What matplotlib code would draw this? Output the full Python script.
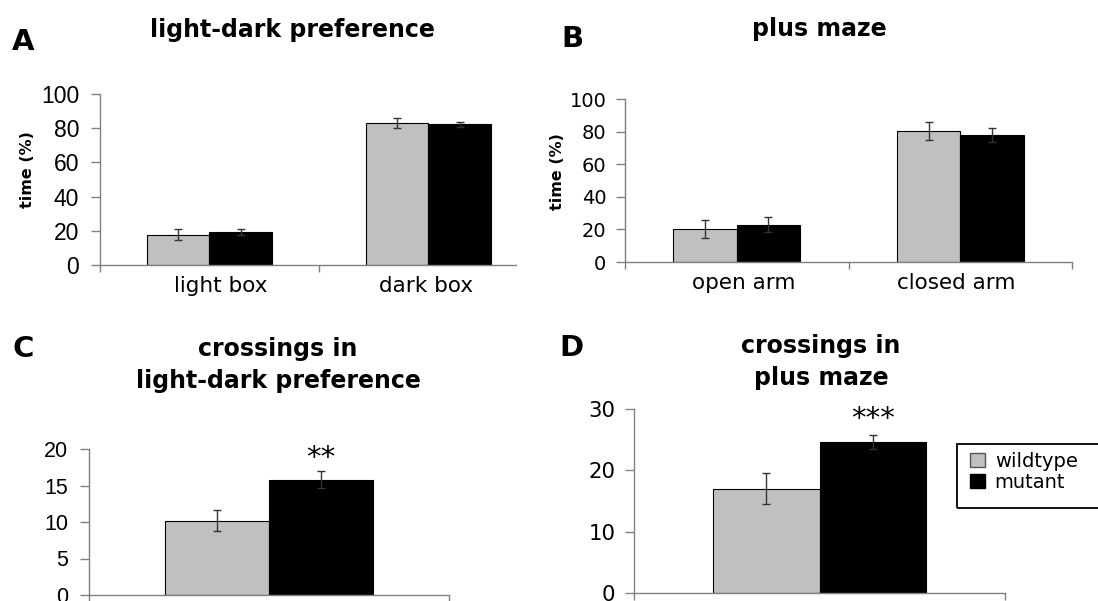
import numpy as np
import matplotlib
matplotlib.use('Agg')
import matplotlib.pyplot as plt
from matplotlib.patches import Patch, Rectangle

# valores
grupos = ['wildtype', 'mutant']
cores = ['#c0c0c0', '#000000']

cat_A = ['light box', 'dark box']
wt_A = [17.8, 83.2]
wt_A_err = [3.0, 2.8]
mut_A = [19.2, 82.2]
mut_A_err = [1.8, 1.4]

cat_B = ['open arm', 'closed arm']
wt_B = [20.0, 80.3]
wt_B_err = [5.5, 5.3]
mut_B = [22.9, 77.8]
mut_B_err = [4.6, 4.3]

wt_C = [10.2]
wt_C_err = [1.4]
mut_C = [15.8]
mut_C_err = [1.2]
sig_C = '**'

wt_D = [17.0]
wt_D_err = [2.5]
mut_D = [24.6]
mut_D_err = [1.1]
sig_D = '***'

W, H = 1098, 601
fig = plt.figure(figsize=(W / 100, H / 100), dpi=100)


def eixo(x0, y_top, x1, y_bot):
    # posição em pixels -> fração da figura
    return fig.add_axes([x0 / W, 1 - y_bot / H, (x1 - x0) / W, (y_bot - y_top) / H])


def estilo(ax, fonte, tam, pad):
    for s in ['top', 'right']:
        ax.spines[s].set_visible(False)
    for s in ['left', 'bottom']:
        ax.spines[s].set_color('#808080')
        ax.spines[s].set_linewidth(1.0)
    ax.tick_params(axis='y', direction='out', length=6.5, width=1, color='#808080',
                   labelsize=tam, pad=pad)
    ax.tick_params(axis='x', which='major', length=0, pad=8, labelsize=15.5)
    ax.tick_params(axis='x', which='minor', direction='out', length=5, width=1, color='#808080')
    for t in ax.get_yticklabels():
        t.set_family(fonte)
    for t in ax.get_xticklabels():
        t.set_family('DejaVu Sans')


def barras(ax, pos, wt, wt_err, mut, mut_err, larg):
    pos = np.array(pos, dtype=float)
    ax.bar(pos - larg / 2, wt, larg, color=cores[0], edgecolor='black', linewidth=0.8, zorder=2)
    ax.bar(pos + larg / 2, mut, larg, color=cores[1], edgecolor='black', linewidth=0.8, zorder=2)
    ax.errorbar(pos - larg / 2, wt, yerr=wt_err, fmt='none', ecolor='#333333',
                elinewidth=1, capsize=3, capthick=1, zorder=3)
    ax.errorbar(pos + larg / 2, mut, yerr=mut_err, fmt='none', ecolor='#333333',
                elinewidth=1, capsize=3, capthick=1, zorder=3)


def estrelas(ax, x, topo, txt, dy):
    ax.annotate(txt, xy=(x, topo), xytext=(0, dy), textcoords='offset points',
                ha='center', va='baseline', fontsize=21, family='DejaVu Sans')


# A
axA = eixo(100, 94, 516, 265)
barras(axA, [0, 1], wt_A, wt_A_err, mut_A, mut_A_err, 0.285)
axA.set_xlim(-0.5, 1.4)
axA.set_ylim(0, 100)
axA.set_yticks([0, 20, 40, 60, 80, 100])
axA.set_xticks([0.05, 0.99])   # rótulos levemente deslocados como no original
axA.set_xticklabels(cat_A)
axA.set_xticks([-0.5, 0.5], minor=True)
estilo(axA, 'Liberation Sans', 16.5, 8.5)

# B
axB = eixo(625, 99, 1072, 262)
barras(axB, [0, 1], wt_B, wt_B_err, mut_B, mut_B_err, 0.283)
axB.set_xlim(-0.5, 1.5)
axB.set_ylim(0, 100)
axB.set_yticks([0, 20, 40, 60, 80, 100])
axB.set_xticks([0.03, 0.98])
axB.set_xticklabels(cat_B)
axB.set_xticks([-0.5, 0.5, 1.5], minor=True)
estilo(axB, 'DejaVu Sans', 14, 7)

# C
axC = eixo(89, 449, 449, 595)
barras(axC, [0], wt_C, wt_C_err, mut_C, mut_C_err, 0.289)
axC.set_xlim(-0.5, 0.5)
axC.set_ylim(0, 20)
axC.set_yticks([0, 5, 10, 15, 20])
axC.set_xticks([])
axC.set_xticks([-0.5, 0.5], minor=True)
estilo(axC, 'Liberation Sans', 15.5, 8.3)
estrelas(axC, 0.289 / 2, mut_C[0] + mut_C_err[0], sig_C, 3.8)

# D
axD = eixo(634, 409, 1005, 593)
barras(axD, [0], wt_D, wt_D_err, mut_D, mut_D_err, 0.286)
axD.set_xlim(-0.5, 0.5)
axD.set_ylim(0, 30)
axD.set_yticks([0, 10, 20, 30])
axD.set_xticks([])
axD.set_xticks([-0.5, 0.5], minor=True)
estilo(axD, 'DejaVu Sans', 15.3, 7)
estrelas(axD, 0.286 / 2, mut_D[0] + mut_D_err[0], sig_D, 6)

# legenda (moldura sai pela borda direita, como no original)
fig.patches.append(Rectangle((957 / W, 1 - 508 / H), 160 / W, 64 / H,
                             transform=fig.transFigure, fill=False,
                             edgecolor='#111111', linewidth=1.4))
handles = [Patch(facecolor=cores[0], edgecolor='#555555', label=grupos[0]),
           Patch(facecolor=cores[1], edgecolor='black', label=grupos[1])]
fig.legend(handles=handles, loc='upper left', bbox_to_anchor=(970 / W, 1 - 452 / H),
           frameon=False, handlelength=0.77, handleheight=0.72, handletextpad=0.5,
           borderpad=0, borderaxespad=0, labelspacing=0.1,
           prop={'family': 'DejaVu Sans', 'size': 14})

# títulos e letras
kw = dict(ha='center', va='center', fontsize=17, fontweight='bold', family='DejaVu Sans')
fig.text(292 / W, 1 - 30 / H, 'light-dark preference', **kw)
fig.text(819 / W, 1 - 29 / H, 'plus maze', **kw)
fig.text(278 / W, 1 - 365 / H, 'crossings in\nlight-dark preference', linespacing=1.4, **kw)
fig.text(821 / W, 1 - 362 / H, 'crossings in\nplus maze', linespacing=1.4, **kw)

for letra, x, y in [('A', 12, 42), ('B', 561, 39), ('C', 12, 349), ('D', 559, 348)]:
    fig.text(x / W, 1 - y / H, letra, ha='left', va='center', fontsize=21,
             fontweight='bold', family='DejaVu Sans')

fig.text(27 / W, 1 - 170 / H, 'time (%)', rotation=90, ha='center', va='center',
         fontsize=11.5, fontweight='bold', family='DejaVu Sans')
fig.text(558 / W, 1 - 172 / H, 'time (%)', rotation=90, ha='center', va='center',
         fontsize=11.5, fontweight='bold', family='DejaVu Sans')

fig.savefig('out.png', dpi=100)
